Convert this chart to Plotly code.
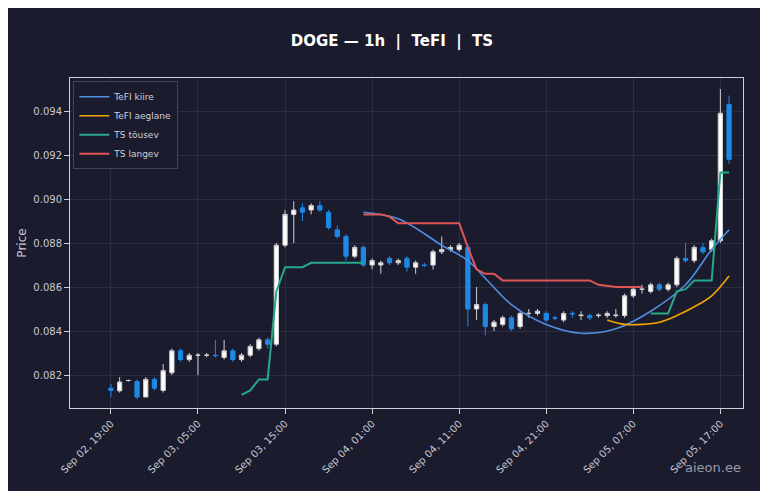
import pandas as pd
import plotly.graph_objects as go

times = pd.date_range("2025-09-02 19:00", periods=72, freq="h")

opens = [.0814, .08128, .08175, .0817, .0810, .0818, .0813, .0821, .0831, .0827,
         .0829, .0829, .0829, .0828, .0831, .0827, .0829, .0832, .0836, .0834,
         .0879, .0893, .0896, .0895, .0897, .0894, .0886, .0883, .0874, .0878,
         .0870, .0870, .0873, .0871, .0873, .0869, .0870, .0870, .0876, .0877,
         .0877, .0878, .0850, .0852, .0842, .0843, .0846, .0842, .0848, .0848,
         .0848, .0846, .0845, .0848, .0847, .0847, .0847, .0847, .0847, .0847,
         .0856, .0859, .0858, .0861, .0859, .0861, .0873, .0872, .0878, .0877,
         .0881, .0943]
closes = [.0813, .08168, .08175, .0810, .0818, .0814, .0822, .0831, .0827, .0829,
          .0829, .0829, .08288, .0831, .0827, .0829, .0833, .0836, .0834, .0879,
          .0893, .0895, .0894, .0897, .0895, .0887, .0883, .0874, .0878, .0870,
          .0872, .0871, .0871, .0872, .0869, .0871, .08698, .0876, .0877, .0878,
          .0879, .0850, .0852, .0842, .0844, .0846, .0841, .0848, .0848, .0849,
          .0845, .08458, .0848, .08478, .08472, .0846, .08472, .0848, .08472, .0856,
          .0859, .0859, .0861, .0859, .0861, .0873, .0872, .0878, .0876, .0881,
          .0939, .0918]
highs = [.0816, .0819, .0818, .0818, .0819, .0819, .0825, .0832, .0832, .0830,
         .0830, .0830, .0836, .0836, .0832, .0830, .0834, .0837, .0837, .0880,
         .0895, .0899, .0898, .0898, .0899, .0895, .0888, .0884, .0879, .0879,
         .0873, .0872, .0874, .0873, .0874, .0872, .0871, .0877, .0883, .0879,
         .0880, .0879, .0860, .0853, .0845, .0847, .0847, .0849, .0850, .0850,
         .0849, .0847, .0849, .0849, .0849, .0848, .0848, .0849, .0850, .0857,
         .0860, .0861, .0862, .0862, .0862, .0874, .0880, .0879, .0880, .0882,
         .0950, .0947]
lows = [.0810, .0812, .0817, .0809, .0810, .0813, .0812, .0820, .0826, .0826,
        .0820, .0828, .0828, .0827, .0826, .0826, .0828, .0831, .0832, .0833,
        .0878, .0880, .0890, .0893, .0894, .0886, .0882, .0872, .0873, .0869,
        .0868, .0866, .0870, .0870, .0867, .0866, .0869, .0868, .0875, .0876,
        .0876, .0842, .0845, .0838, .0840, .0842, .0840, .0841, .0846, .0847,
        .0844, .0845, .0844, .0846, .0845, .0845, .0846, .0846, .0846, .0846,
        .0855, .0857, .0857, .0858, .0858, .0860, .0871, .0871, .0875, .0876,
        .0880, .0916]

# indicator lines (candle index -> value)
tefi_fast_idx = [29, 33, 38, 41, 43, 46, 50, 54, 58, 62, 66, 69, 71]
tefi_fast = [.0894, .0891, .0879, .0872, .0864, .0852, .0843, .0839, .0841, .0849, .0861, .0877, .0886]
tefi_slow_idx = [57, 59, 61, 63, 65, 67, 69, 71]
tefi_slow = [.0845, .0843, .0843, .0844, .0847, .0851, .0856, .0865]
ts_up_idx = [15, 16, 17, 18, 19, 20, 21, 22, 23, 24, 25, 26, 27, 28, 29, None,
             62, 63, 64, 65, 66, 67, 68, 69, 70, 71]
ts_up = [.0811, .0813, .0818, .0818, .0858, .0869, .0869, .0869, .0871, .0871, .0871, .0871, .0871, .0871, .0871, None,
         .0848, .0848, .0848, .0858, .0859, .0863, .0863, .0863, .0912, .0912]
ts_down_idx = [29, 30, 31, 32, 33, 34, 35, 36, 37, 38, 39, 40, 41, 42, 43, 44, 45, 50, 55, 56, 58, 61]
ts_down = [.0893, .0893, .0893, .0892, .0889, .0889, .0889, .0889, .0889, .0889, .0889, .0889, .0878, .0868, .0866, .0866,
           .0863, .0863, .0863, .0861, .0860, .0860]


def tx(idx):
    return [times[i] if i is not None else None for i in idx]


fig = go.Figure()
fig.add_trace(go.Candlestick(
    x=times, open=opens, high=highs, low=lows, close=closes,
    increasing=dict(line=dict(color="#d0d0d0", width=1), fillcolor="#ffffff"),
    decreasing=dict(line=dict(color="#1e88e5", width=1), fillcolor="#1e88e5"),
    whiskerwidth=0, showlegend=False, name="DOGE"))
fig.add_trace(go.Scatter(x=tx(tefi_fast_idx), y=tefi_fast, mode="lines", name="TeFI kiire",
                         line=dict(color="#4f8fe0", width=1.6, shape="spline")))
fig.add_trace(go.Scatter(x=tx(tefi_slow_idx), y=tefi_slow, mode="lines", name="TeFI aeglane",
                         line=dict(color="#f0a500", width=1.6, shape="spline")))
fig.add_trace(go.Scatter(x=tx(ts_up_idx), y=ts_up, mode="lines", name="TS tõusev",
                         line=dict(color="#26a88a", width=2)))
fig.add_trace(go.Scatter(x=tx(ts_down_idx), y=ts_down, mode="lines", name="TS langev",
                         line=dict(color="#e05555", width=2)))

tickvals = pd.date_range("2025-09-02 19:00", periods=8, freq="10h")
fig.update_layout(
    width=768, height=491,
    paper_bgcolor="#1b1b2e", plot_bgcolor="#1b1b2e",
    font=dict(family="DejaVu Sans", color="#c8c8d0", size=10),
    title=dict(text="<b>DOGE — 1h  |  TeFI  |  TS</b>", x=0.5, y=0.945, font=dict(size=15, color="#ffffff")),
    margin=dict(l=62, r=33, t=70, b=91),
    showlegend=True,
    legend=dict(x=0.005, y=0.99, xanchor="left", yanchor="top", bgcolor="#1b1b2e",
                bordercolor="#44445a", borderwidth=1, font=dict(size=9, color="#d0d0d8")),
    xaxis=dict(rangeslider=dict(visible=False), tickvals=tickvals, automargin=False,
               ticktext=[t.strftime("%b %d, %H:%M") for t in tickvals], tickangle=-45,
               gridcolor="#2c2c44", showline=True, linecolor="#cfcfd8", mirror=True,
               ticks="outside", tickcolor="#cfcfd8",
               range=[times[0] - pd.Timedelta("4.7h"), times[-1] + pd.Timedelta("1.6h")]),
    yaxis=dict(title=dict(text="Price", standoff=4), tickformat=".3f", dtick=0.002, gridcolor="#2c2c44",
               automargin=False, showline=True, linecolor="#cfcfd8", mirror=True, ticks="outside",
               tickcolor="#cfcfd8", range=[0.0805, 0.0955]),
    annotations=[dict(text="aieon.ee", x=1.0, y=-0.21, xref="paper", yref="paper", showarrow=False,
                      xanchor="right", font=dict(size=13, color="#9a9aa8"))],
)
fig.write_html("out.html")
